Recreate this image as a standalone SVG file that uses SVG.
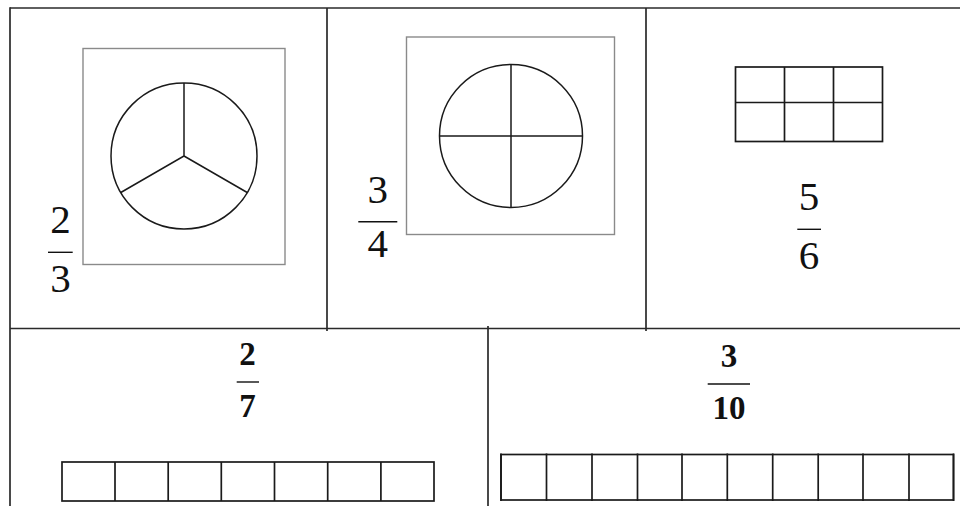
<svg xmlns="http://www.w3.org/2000/svg" width="960" height="506" viewBox="0 0 960 506">
<style>
.frame{stroke:#2a2a2a;stroke-width:1.7;fill:none}
.box{stroke:#8a8a8a;stroke-width:1.4;fill:none}
.shape{stroke:#1a1a1a;stroke-width:1.5;fill:none}
.grid{stroke:#1a1a1a;stroke-width:1.7;fill:none}
.bar{stroke:#111;stroke-width:1.4}
.num{font-family:"Liberation Serif","DejaVu Serif",serif;font-size:41px;fill:#111;text-anchor:middle}
.numb{font-family:"Liberation Serif","DejaVu Serif",serif;font-size:33px;font-weight:bold;fill:#111;text-anchor:middle}
</style>
<rect width="960" height="506" fill="#fff"/>
<g id="table">
<line class="frame" x1="10" y1="8" x2="960" y2="8"/>
<line class="frame" x1="10" y1="7.2" x2="10" y2="506"/>
<line class="frame" x1="10" y1="328.5" x2="960" y2="328.5"/>
<line class="frame" x1="327" y1="8" x2="327" y2="331"/>
<line class="frame" x1="646" y1="8" x2="646" y2="331"/>
<line class="frame" x1="488" y1="326" x2="488" y2="506"/>
</g>
<g id="cell-2-3">
<rect class="box" x="83" y="48.5" width="202" height="216"/>
<circle class="shape" cx="184" cy="156" r="73"/>
<path class="shape" d="M184 83 V156 L120.8 192.5 M184 156 L247.2 192.5"/>
<text class="num" x="60.5" y="233">2</text>
<line class="bar" x1="48" y1="252.3" x2="72.7" y2="252.3"/>
<text class="num" x="60.5" y="292">3</text>
</g>
<g id="cell-3-4">
<rect class="box" x="406.5" y="37" width="208" height="197.5"/>
<circle class="shape" cx="511" cy="136" r="71.5"/>
<path class="shape" d="M511 64.5 V207.5 M439.5 136 H582.5"/>
<text class="num" x="377.7" y="203">3</text>
<line class="bar" x1="358.3" y1="221.7" x2="397.3" y2="221.7"/>
<text class="num" x="377.7" y="257">4</text>
</g>
<g id="cell-5-6">
<rect class="grid" x="735.5" y="67" width="147" height="74.5"/>
<path class="grid" d="M784.5 67 V141.5 M833.5 67 V141.5 M735.5 102.5 H882.5"/>
<text class="num" x="809" y="210">5</text>
<line class="bar" x1="797.3" y1="229.3" x2="821" y2="229.3"/>
<text class="num" x="809" y="269">6</text>
</g>
<g id="cell-2-7">
<rect class="grid" x="62" y="462" width="372" height="39"/>
<path class="grid" d="M115 462 V501 M168.2 462 V501 M221.3 462 V501 M274.5 462 V501 M327.7 462 V501 M380.9 462 V501"/>
<text class="numb" x="247.5" y="365">2</text>
<line class="bar" x1="236.7" y1="382" x2="259" y2="382"/>
<text class="numb" x="247.5" y="417">7</text>
</g>
<g id="cell-3-10">
<rect class="grid" x="501" y="454.5" width="452.5" height="45.5"/>
<path class="grid" d="M546.5 453.5 V501 M592 453.5 V501 M637.5 453.5 V501 M682 453.5 V501 M727.3 453.5 V501 M772.7 453.5 V501 M818.2 453.5 V501 M863 453.5 V501 M909 453.5 V501 M501 453.5 V501 M953.5 453.5 V501"/>
<text class="numb" x="729" y="366.5">3</text>
<line class="bar" x1="707.7" y1="384" x2="750" y2="384"/>
<text class="numb" x="729" y="419">10</text>
</g>
</svg>
